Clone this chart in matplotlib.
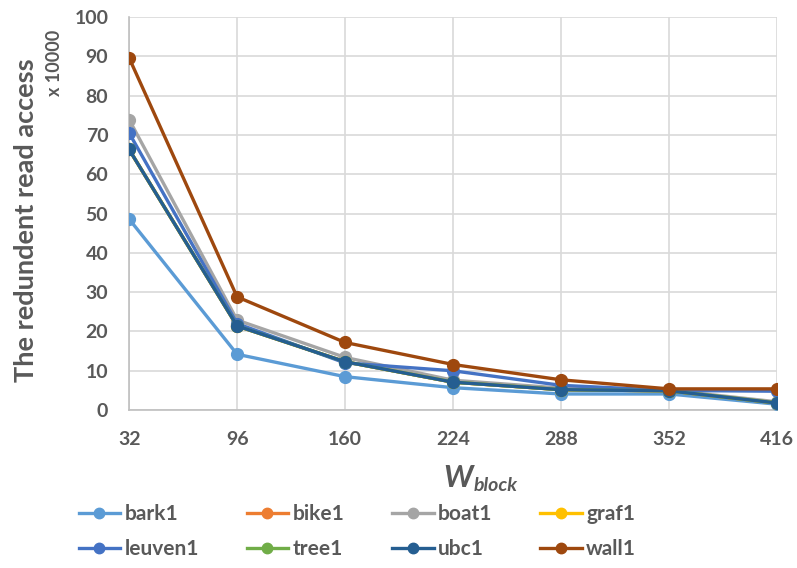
import matplotlib
matplotlib.use("Agg")
import matplotlib.pyplot as plt
from matplotlib.lines import Line2D

categories = [32, 96, 160, 224, 288, 352, 416]
bark1 = [48.6, 14.2, 8.5, 5.7, 4.1, 4.1, 1.5]
bike1 = [66.3, 21.4, 12.3, 7.1, 5.2, 4.9, 1.8]
boat1 = [73.9, 22.9, 13.4, 7.6, 5.6, 5.1, 2.1]
graf1 = [66.3, 21.4, 12.3, 7.1, 5.2, 4.9, 1.8]
leuven1 = [70.5, 22.0, 12.0, 10.0, 6.3, 5.0, 4.8]
tree1 = [66.3, 21.4, 12.3, 7.1, 5.2, 4.9, 1.8]
ubc1 = [66.3, 21.4, 12.3, 7.1, 5.2, 4.9, 1.8]
wall1 = [89.6, 28.8, 17.2, 11.6, 7.7, 5.4, 5.4]

names = ["bark1", "bike1", "boat1", "graf1", "leuven1", "tree1", "ubc1", "wall1"]
series = [bark1, bike1, boat1, graf1, leuven1, tree1, ubc1, wall1]
colors = ["#5B9BD5", "#ED7D31", "#A5A5A5", "#FFC000", "#4472C4", "#70AD47", "#255E91", "#9E480E"]

plt.rcParams['font.family'] = ['Lato', 'DejaVu Sans']
txt = "#595959"

fig = plt.figure(figsize=(7.97, 5.68), dpi=100)
ax = fig.add_axes([0.162, 0.278, 0.813, 0.692])

xs = list(range(len(categories)))
for name, vals, c in zip(names, series, colors):
    ax.plot(xs, vals, color=c, lw=2.4, marker='o', ms=8.5, label=name, zorder=3)

ax.set_xlim(0, len(categories) - 1)
ax.set_ylim(0, 100)
ax.set_yticks(range(0, 101, 10))
ax.set_xticks(xs)
ax.set_xticklabels([str(c) for c in categories])
ax.grid(True, color="#D9D9D9", lw=1.2, zorder=0)
for s in ["top", "right"]:
    ax.spines[s].set_visible(False)
for s in ["left", "bottom"]:
    ax.spines[s].set_color("#BFBFBF")
    ax.spines[s].set_linewidth(1.2)
ax.tick_params(length=0, labelsize=14, labelcolor=txt)
ax.tick_params(axis='y', pad=15)
ax.tick_params(axis='x', pad=15)
for lab in ax.get_xticklabels() + ax.get_yticklabels():
    lab.set_fontweight('bold')

fig.text(0.033, 0.613, "The redundent read access", rotation=90, ha='center', va='center',
         fontsize=19.5, fontweight='bold', color=txt)
fig.text(0.069, 0.89, "x 10000", rotation=90, ha='center', va='center',
         fontsize=13, fontweight='bold', color=txt)
fig.text(0.593, 0.158, "W", ha='right', va='center', fontsize=22, fontstyle='italic',
         fontweight='bold', color=txt)
fig.text(0.594, 0.145, "block", ha='left', va='center', fontsize=14, fontstyle='italic',
         fontweight='bold', color=txt)

order = [0, 4, 1, 5, 2, 6, 3, 7]
handles = [Line2D([0], [0], color=colors[i], lw=2.4, marker='o', ms=7.5) for i in order]
labels = [names[i] for i in order]
leg = fig.legend(handles, labels, ncol=4, loc='center left', bbox_to_anchor=(0.075, 0.064),
                 frameon=False, fontsize=15, handlelength=2.0, handletextpad=0.2,
                 columnspacing=2.3, labelspacing=0.7)
for t in leg.get_texts():
    t.set_color(txt)
    t.set_fontweight('bold')

fig.savefig("out.png", dpi=100)
